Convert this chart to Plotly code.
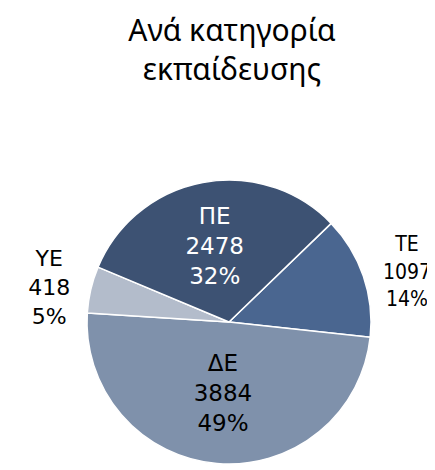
import plotly.graph_objects as go

# Ανά κατηγορία εκπαίδευσης
# (page body has an 8px default margin, so the figure is 8px smaller than the window)
labels = ['ΤΕ', 'ΔΕ', 'ΥΕ', 'ΠΕ']
values = [1097, 3884, 418, 2478]
pct_labels = ['14%', '49%', '5%', '32%']
colors = ['#4a6690', '#7f91ab', '#b3bccb', '#3d5273']
text_colors = ['black', 'black', 'black', 'white']
positions = ['outside', 'inside', 'outside', 'inside']
text_fonts = ['DejaVu Sans Condensed', 'DejaVu Sans', 'DejaVu Sans', 'DejaVu Sans']
text_sizes = [21, 23, 22, 23]

W, H = 427, 462

fig = go.Figure()

fig.add_trace(go.Pie(labels=labels, values=values, customdata=pct_labels,
                     sort=False, direction='clockwise', rotation=46,
                     marker=dict(colors=colors, line=dict(color='white', width=1.5)),
                     texttemplate='%{label}<br>%{value}<br>%{customdata}',
                     textposition=positions,
                     insidetextorientation='horizontal',
                     textfont=dict(family=text_fonts, size=text_sizes, color=text_colors),
                     domain=dict(x=[79/W, 363/W], y=[6/H, 290/H]),
                     showlegend=False, hoverinfo='label+value+percent'))

fig.update_layout(width=W, height=H,
                  margin=dict(l=0, r=0, t=0, b=0),
                  paper_bgcolor='white', plot_bgcolor='white',
                  title=dict(text='Ανά κατηγορία<br>εκπαίδευσης',
                             x=224/W, xanchor='center', xref='container',
                             y=1 - 33/H, yanchor='middle', yref='container',
                             font=dict(family='Noto Sans', size=30, color='black')))

fig.write_html("out.html")
